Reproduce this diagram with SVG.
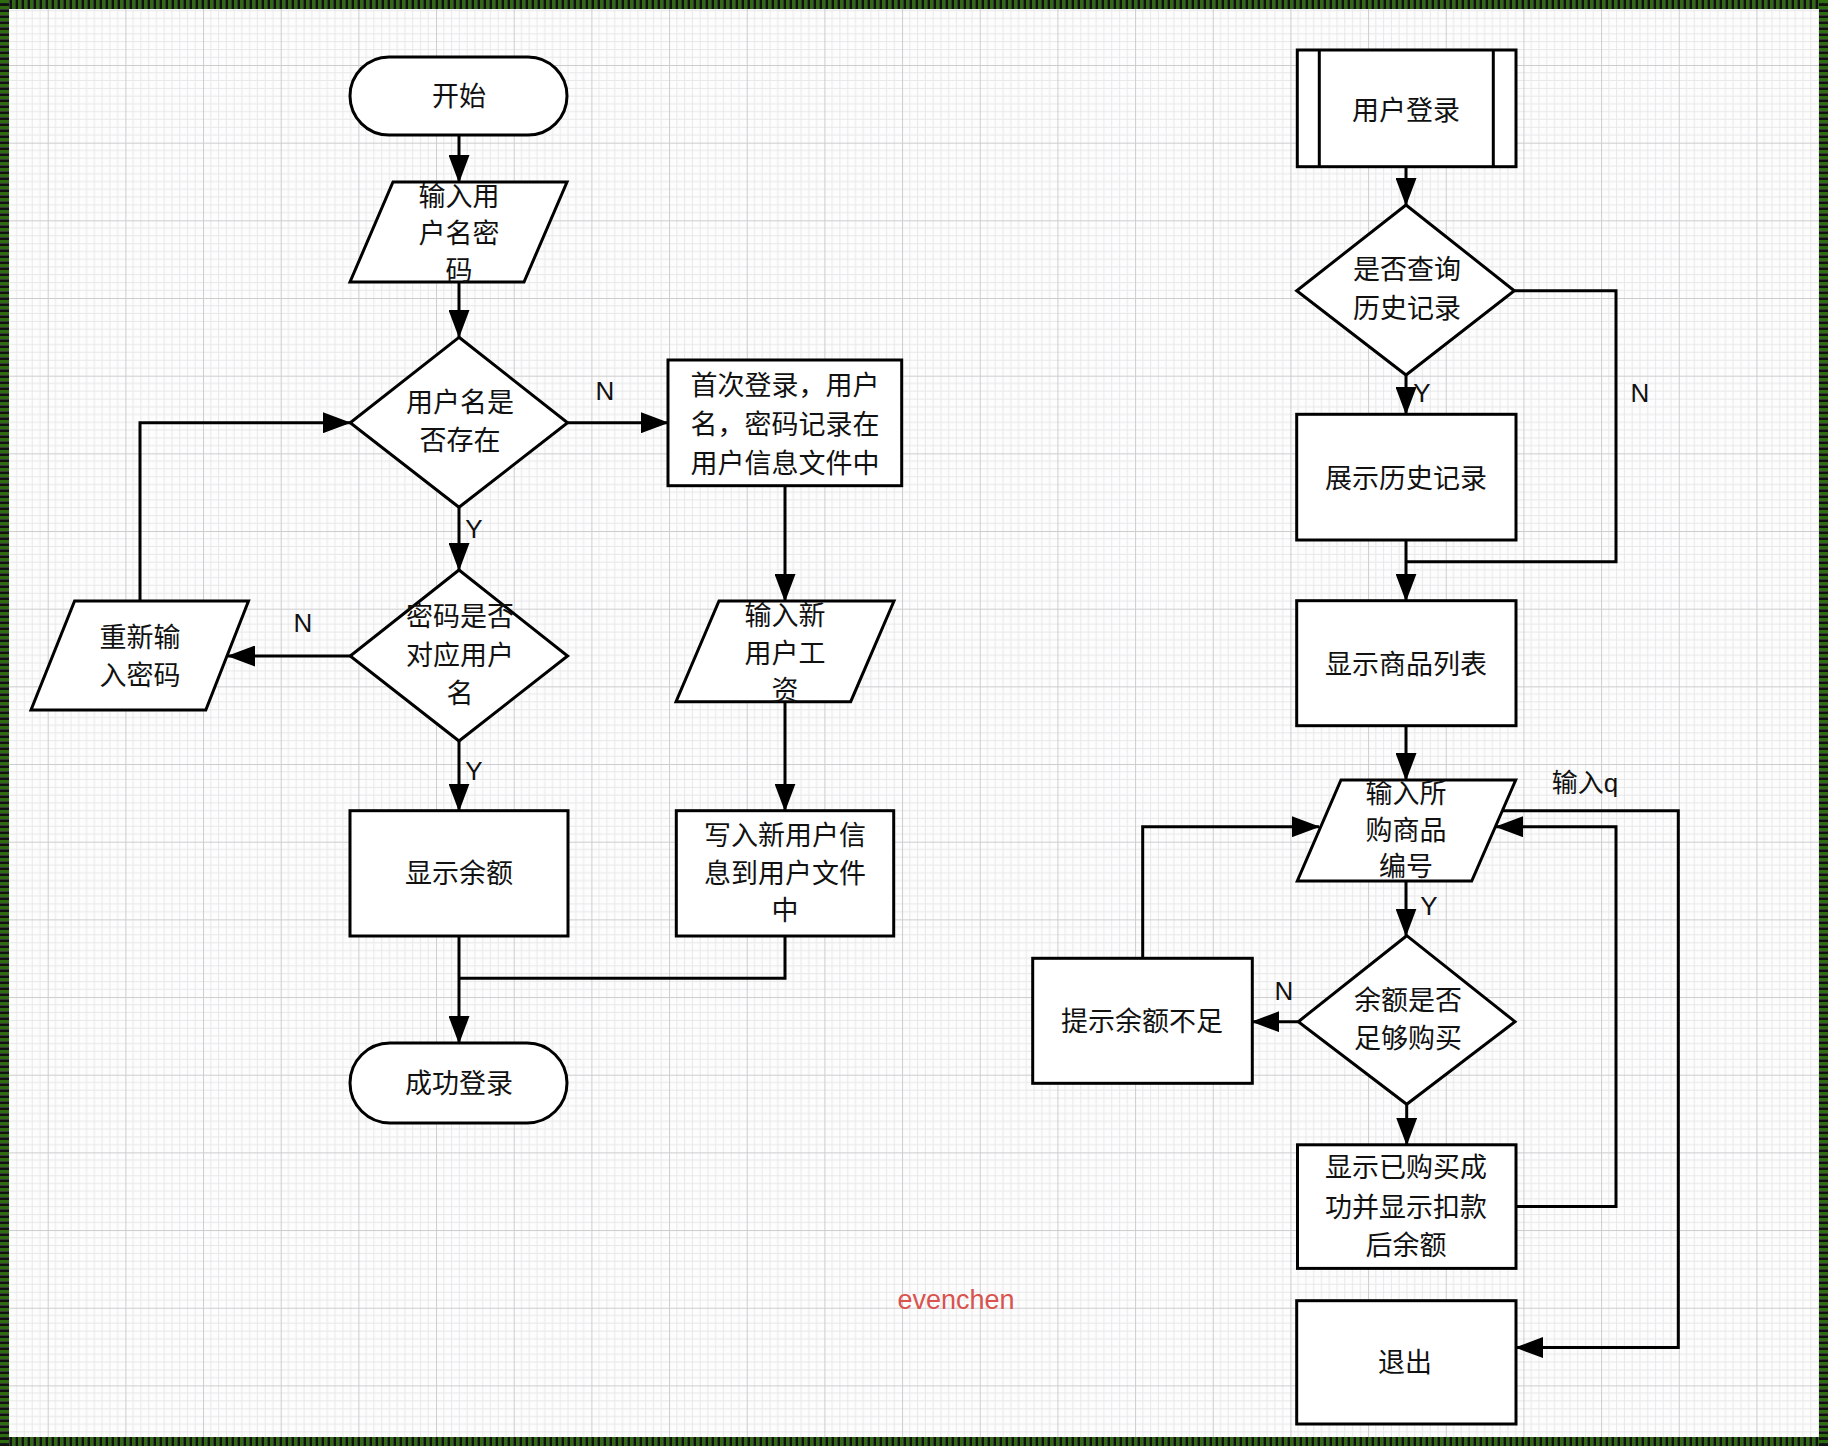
<svg xmlns="http://www.w3.org/2000/svg" width="1828" height="1446" viewBox="0 0 1828 1446">
<defs>
<pattern id="grid" patternUnits="userSpaceOnUse" x="47.7" y="65" width="77.67" height="77.67">
<path d="M7.77,0V77.67M15.53,0V77.67M23.3,0V77.67M31.07,0V77.67M38.84,0V77.67M46.6,0V77.67M54.37,0V77.67M62.14,0V77.67M69.9,0V77.67M0,7.77H77.67M0,15.53H77.67M0,23.3H77.67M0,31.07H77.67M0,38.84H77.67M0,46.6H77.67M0,54.37H77.67M0,62.14H77.67M0,69.9H77.67" stroke="#e8e8ea" stroke-width="1" fill="none"/>
<path d="M0,0V77.67M0,0H77.67" stroke="#cdcdd0" stroke-width="2" fill="none"/>
</pattern>
<pattern id="stripeV" patternUnits="userSpaceOnUse" x="0" y="0" width="6" height="12">
<rect x="0" y="0" width="3.2" height="12" fill="#2f6b10"/><rect x="3.2" y="0" width="2.8" height="12" fill="#111"/>
</pattern>
<pattern id="stripeH" patternUnits="userSpaceOnUse" x="0" y="0" width="12" height="6">
<rect x="0" y="0" width="12" height="3.2" fill="#2f6b10"/><rect x="0" y="3.2" width="12" height="2.8" fill="#111"/>
</pattern>
<marker id="arr" viewBox="0 0 28 21" markerWidth="28" markerHeight="21" refX="27" refY="10.5" orient="auto" markerUnits="userSpaceOnUse">
<path d="M0,0L28,10.5L0,21z" fill="#000"/>
</marker>
</defs>
<style>
.n{fill:#fff;stroke:#000;stroke-width:3}
.t{font-family:"Noto Sans CJK SC","Noto Sans",sans-serif;font-size:27px;fill:#111;text-anchor:middle}
.l{font-family:"Liberation Sans","Noto Sans CJK SC",sans-serif;font-size:26px;fill:#111;text-anchor:middle}
.c{fill:none;stroke:#000;stroke-width:3}
.a{marker-end:url(#arr)}
</style>
<rect x="0" y="0" width="1828" height="1446" fill="#fdfdfd"/>
<rect x="0" y="0" width="1828" height="1446" fill="url(#grid)"/>
<rect x="0" y="0" width="1828" height="9" fill="url(#stripeV)"/>
<rect x="0" y="1437" width="1828" height="9" fill="url(#stripeV)"/>
<rect x="0" y="0" width="9" height="1446" fill="url(#stripeH)"/>
<rect x="1819" y="0" width="9" height="1446" fill="url(#stripeH)"/>

<g id="connectors">
<path class="c a" d="M459,135V182"/>
<path class="c a" d="M459,282V337"/>
<path class="c a" d="M568,422.7H668"/>
<path class="c a" d="M459,507.3V570"/>
<path class="c a" d="M350,656H228"/>
<path class="c a" d="M140,601V422.7H350"/>
<path class="c a" d="M459,741V810.7"/>
<path class="c a" d="M785,485.7V601"/>
<path class="c a" d="M785,701.7V810.7"/>
<path class="c a" d="M459,936V1043"/>
<path class="c" d="M785,936V978.3H459"/>
<path class="c a" d="M1406,166.7V205"/>
<path class="c a" d="M1406,375V414"/>
<path class="c" d="M1514.3,290.7H1616V561.7H1406"/>
<path class="c a" d="M1406,540V600.7"/>
<path class="c a" d="M1406,725.7V780"/>
<path class="c a" d="M1406,881V935.7"/>
<path class="c a" d="M1298.3,1021.7H1252.3"/>
<path class="c a" d="M1142.7,958.3V826.7H1319"/>
<path class="c a" d="M1406.7,1104.3V1144.8"/>
<path class="c a" d="M1516,1206.6H1616V826.7H1496"/>
<path class="c a" d="M1502.5,810.7H1678.3V1347.5H1516"/>
<text class="l" x="605" y="400">N</text>
<text class="l" x="474" y="538">Y</text>
<text class="l" x="303" y="632">N</text>
<text class="l" x="474" y="780">Y</text>
<text class="l" x="1422" y="402">Y</text>
<text class="l" x="1640" y="402">N</text>
<text class="l" x="1585" y="792">输入q</text>
<text class="l" x="1429" y="915">Y</text>
<text class="l" x="1284" y="1000">N</text>
</g>

<g id="start"><rect class="n" x="350" y="57" width="217" height="78" rx="39"/><text class="t" x="459" y="106">开始</text></g>
<g id="input-user"><polygon class="n" points="393,182 567,182 524,282 350,282"/><text class="t" x="459" y="206">输入用</text><text class="t" x="459" y="243">户名密</text><text class="t" x="459" y="280">码</text></g>
<g id="user-exists"><polygon class="n" points="459,337.3 567.6,422.7 459,507.3 350.2,422.7"/><text class="t" x="460" y="412">用户名是</text><text class="t" x="460" y="450">否存在</text></g>
<g id="pwd-match"><polygon class="n" points="459,570 567.6,656 459,741 350.2,656"/><text class="t" x="460" y="626">密码是否</text><text class="t" x="460" y="665">对应用户</text><text class="t" x="460" y="703">名</text></g>
<g id="reenter-pwd"><polygon class="n" points="74.6,601 248.5,601 205.8,710 31,710"/><text class="t" x="140" y="647">重新输</text><text class="t" x="140" y="685">入密码</text></g>
<g id="first-login"><rect class="n" x="668" y="360" width="233.7" height="125.7"/><text class="t" x="785" y="395">首次登录，用户</text><text class="t" x="785" y="434">名，密码记录在</text><text class="t" x="785" y="473">用户信息文件中</text></g>
<g id="input-salary"><polygon class="n" points="719,601 894,601 850.7,701.7 676,701.7"/><text class="t" x="785" y="625">输入新</text><text class="t" x="785" y="663">用户工</text><text class="t" x="785" y="700">资</text></g>
<g id="show-balance"><rect class="n" x="350" y="810.7" width="218" height="125.3"/><text class="t" x="459" y="883">显示余额</text></g>
<g id="write-user"><rect class="n" x="676.3" y="810.7" width="217.4" height="125.3"/><text class="t" x="785" y="845">写入新用户信</text><text class="t" x="785" y="883">息到用户文件</text><text class="t" x="785" y="920">中</text></g>
<g id="login-ok"><rect class="n" x="350" y="1043" width="217" height="80" rx="40"/><text class="t" x="459" y="1093">成功登录</text></g>

<g id="user-login"><rect class="n" x="1297.3" y="50" width="218.7" height="116.7"/><path class="c" d="M1319.3,50V166.7M1493.3,50V166.7"/><text class="t" x="1406" y="120">用户登录</text></g>
<g id="query-history"><polygon class="n" points="1406,205 1514.3,290.7 1406,375 1296.7,290.7"/><text class="t" x="1407" y="279">是否查询</text><text class="t" x="1407" y="318">历史记录</text></g>
<g id="show-history"><rect class="n" x="1296.7" y="414.3" width="219.3" height="125.7"/><text class="t" x="1406" y="488">展示历史记录</text></g>
<g id="goods-list"><rect class="n" x="1296.7" y="600.7" width="219.3" height="125"/><text class="t" x="1406" y="674">显示商品列表</text></g>
<g id="input-goods"><polygon class="n" points="1341,780 1515.7,780 1471.7,881 1297.3,881"/><text class="t" x="1406" y="803">输入所</text><text class="t" x="1406" y="840">购商品</text><text class="t" x="1406" y="876">编号</text></g>
<g id="enough-balance"><polygon class="n" points="1406.7,935.7 1515,1021.7 1406.7,1104.3 1298.3,1021.7"/><text class="t" x="1408" y="1010">余额是否</text><text class="t" x="1408" y="1048">足够购买</text></g>
<g id="insufficient"><rect class="n" x="1032.7" y="958.3" width="219.6" height="125"/><text class="t" x="1142" y="1031">提示余额不足</text></g>
<g id="bought"><rect class="n" x="1297.5" y="1144.8" width="218.5" height="123.6"/><text class="t" x="1406" y="1177">显示已购买成</text><text class="t" x="1406" y="1217">功并显示扣款</text><text class="t" x="1406" y="1255">后余额</text></g>
<g id="exit"><rect class="n" x="1296.7" y="1300.7" width="219.3" height="123.3"/><text class="t" x="1405" y="1372">退出</text></g>

<text x="956" y="1309" font-family="'Liberation Sans',sans-serif" font-size="27" fill="#d9534f" text-anchor="middle">evenchen</text>
</svg>
